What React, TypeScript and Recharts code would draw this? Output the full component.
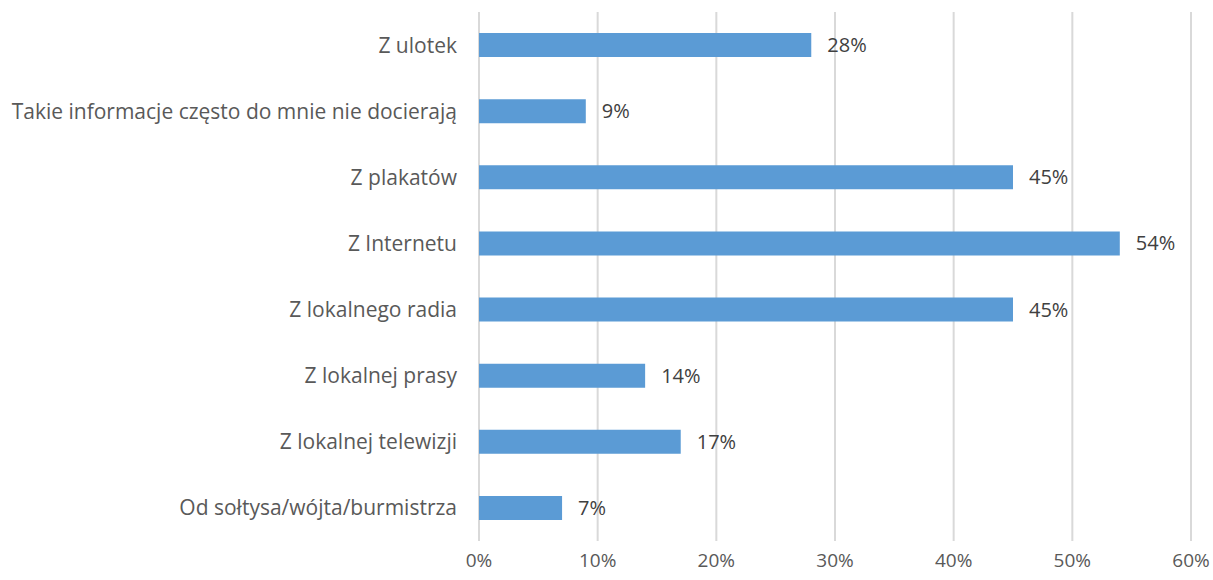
import React from "react";
import { BarChart, Bar, XAxis, YAxis, CartesianGrid, LabelList } from "recharts";

const categories = [
  "Z ulotek",
  "Takie informacje często do mnie nie docierają",
  "Z plakatów",
  "Z Internetu",
  "Z lokalnego radia",
  "Z lokalnej prasy",
  "Z lokalnej telewizji",
  "Od sołtysa/wójta/burmistrza",
];
const values = [28, 9, 45, 54, 45, 14, 17, 7];
const xTicks = [0, 10, 20, 30, 40, 50, 60];

const data = categories.map((c, i) => ({ name: c, value: values[i] }));

const FONT = "'Open Sans', sans-serif";

export default function App() {
  return (
    <div style={{ position: "absolute", left: 0, top: 0, background: "#fff" }}>
      <BarChart
        width={1213}
        height={580}
        data={data}
        layout="vertical"
        margin={{ top: 12, right: 22, bottom: 0, left: 0 }}
        barCategoryGap={0}
      >
        <CartesianGrid horizontal={false} vertical stroke="#d9d9d9" strokeWidth={2} />
        <XAxis
          type="number"
          domain={[0, 60]}
          ticks={xTicks}
          tickFormatter={(v: number) => v + "%"}
          axisLine={false}
          tickLine={false}
          tickSize={0}
          tickMargin={13}
          height={39}
          tick={{ fill: "#595959", fontSize: 19, fontFamily: FONT }}
          interval={0}
        />
        <YAxis
          type="category"
          dataKey="name"
          width={479}
          axisLine={false}
          tickLine={false}
          tickSize={0}
          tickMargin={22}
          interval={0}
          tick={{ fill: "#595959", fontSize: 21, fontFamily: FONT }}
        />
        <Bar dataKey="value" fill="#5b9bd5" barSize={24} isAnimationActive={false}>
          <LabelList
            dataKey="value"
            position="right"
            offset={16}
            formatter={(v: number) => v + "%"}
            style={{ fill: "#404040", fontSize: 20, fontFamily: FONT }}
          />
        </Bar>
      </BarChart>
    </div>
  );
}
